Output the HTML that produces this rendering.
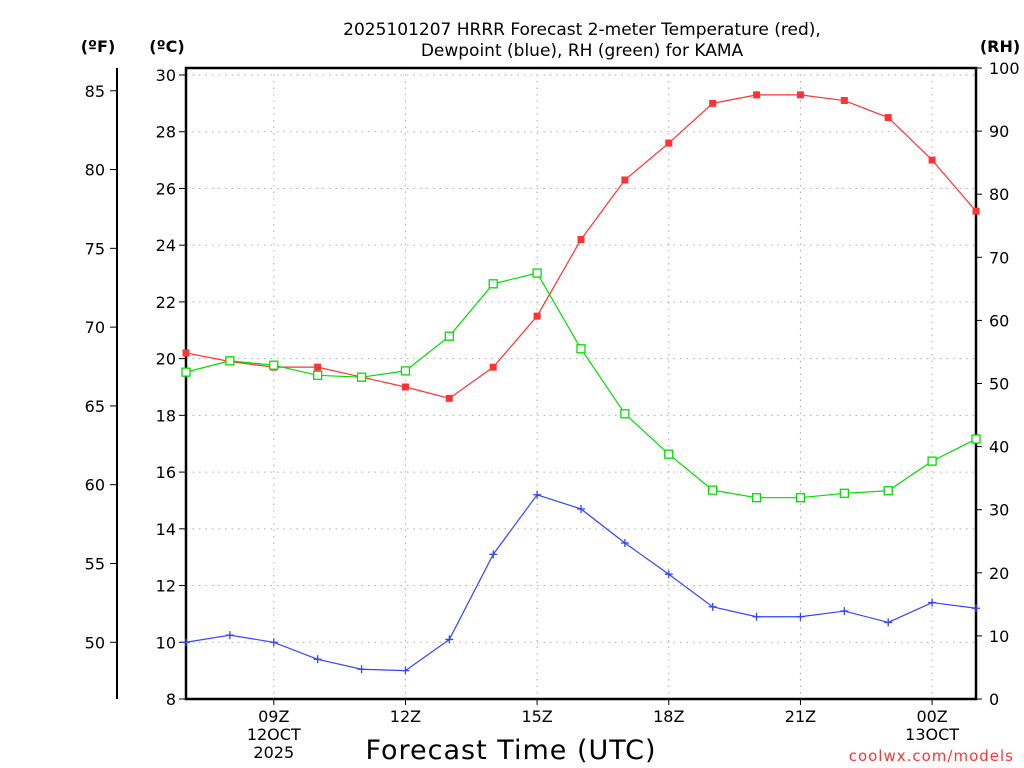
<!DOCTYPE html>
<html><head><meta charset="utf-8"><style>
body{margin:0;background:#fff;}
svg{display:block;font-family:"DejaVu Sans","Liberation Sans",sans-serif;}
</style></head><body>
<svg id="chart" width="1024" height="768" viewBox="0 0 1024 768">
<text x="582" y="35" text-anchor="middle" font-size="17" fill="#000">2025101207 HRRR Forecast 2-meter Temperature (red),</text>
<text x="582" y="56" text-anchor="middle" font-size="17" fill="#000">Dewpoint (blue), RH (green) for KAMA</text>
<text x="98" y="52" text-anchor="middle" font-size="16" font-weight="bold">(ºF)</text>
<text x="167" y="52" text-anchor="middle" font-size="16" font-weight="bold">(ºC)</text>
<text x="1000" y="52" text-anchor="middle" font-size="16" font-weight="bold">(RH)</text>
<text x="511" y="759" text-anchor="middle" font-size="27" letter-spacing="1">Forecast Time (UTC)</text>
<text x="1014" y="761" text-anchor="end" font-size="15" fill="#ff3333" letter-spacing="1">coolwx.com/models</text>
<g id="g"></g>
</svg>
<script>
const hours = ["07","08","09","10","11","12","13","14","15","16","17","18","19","20","21","22","23","00","01"];
const tempC = [20.2,19.9,19.7,19.7,19.35,19.0,18.6,19.7,21.5,24.2,26.3,27.6,29.0,29.3,29.3,29.1,28.5,27.0,25.2];
const dewC = [10.0,10.25,10.0,9.4,9.05,9.0,10.1,13.1,15.2,14.7,13.5,12.4,11.25,10.9,10.9,11.1,10.7,11.4,11.2];
const rh = [51.8,53.6,52.9,51.3,51.0,52.0,57.5,65.8,67.5,55.5,45.2,38.8,33.1,31.9,31.9,32.6,33.0,37.7,41.2];
const cTicks = [8,10,12,14,16,18,20,22,24,26,28,30];
const fTicks = [50,55,60,65,70,75,80,85];
const rhTicks = [0,10,20,30,40,50,60,70,80,90,100];
const xLabels = [{i:2,t:["09Z","12OCT","2025"]},{i:5,t:["12Z"]},{i:8,t:["15Z"]},{i:11,t:["18Z"]},{i:14,t:["21Z"]},{i:17,t:["00Z","13OCT"]}];

const L=186,R=976,T=68,B=699;
const xS=i=>L+i*(R-L)/(hours.length-1);
const yC=c=>75+(30-c)*(699-75)/22;
const yF=f=>yC((f-32)*5/9);
const yRH=v=>B-v*(B-T)/100;
const g=document.getElementById('g');
const NS='http://www.w3.org/2000/svg';
function mk(tag,attrs,name){const e=document.createElementNS(NS,tag);for(const k in attrs)e.setAttribute(k,attrs[k]);


g.appendChild(e);return e;}
// grid
cTicks.forEach(c=>{mk('line',{x1:L,x2:R,y1:yC(c),y2:yC(c),stroke:'#aaa','stroke-dasharray':'1.5,5'},'grid-line-h');
mk('line',{x1:179,x2:L,y1:yC(c),y2:yC(c),stroke:'#000'},'celsius-tick');
const t=mk('text',{x:176,y:yC(c)+6,'text-anchor':'end','font-size':'16'},'celsius-tick-label');t.textContent=c;});
xLabels.forEach(o=>{const x=xS(o.i);mk('line',{x1:x,x2:x,y1:T,y2:B,stroke:'#aaa','stroke-dasharray':'1.5,5'},'grid-line-v');
mk('line',{x1:x,x2:x,y1:B,y2:B+6,stroke:'#000'},'x-tick');
o.t.forEach((s,k)=>{const t=mk('text',{x:x,y:722+k*18,'text-anchor':'middle','font-size':'16'},'x-tick-label');t.textContent=s;});});
fTicks.forEach(f=>{mk('line',{x1:110,x2:117,y1:yF(f),y2:yF(f),stroke:'#000'},'fahrenheit-tick');
const t=mk('text',{x:105,y:yF(f)+6,'text-anchor':'end','font-size':'16'},'fahrenheit-tick-label');t.textContent=f;});
mk('line',{x1:117,x2:117,y1:T,y2:B,stroke:'#000','stroke-width':2},'fahrenheit-axis-line');
rhTicks.forEach(v=>{mk('line',{x1:R,x2:R+6,y1:yRH(v),y2:yRH(v),stroke:'#000'},'rh-tick');
const t=mk('text',{x:989,y:yRH(v)+6,'font-size':'16'},'rh-tick-label');t.textContent=v;});
mk('rect',{x:L,y:T,width:R-L,height:B-T,fill:'none',stroke:'#000','stroke-width':2.5},'plot-frame');
// series
function line(vals,yf,col,name){mk('polyline',{points:vals.map((v,i)=>xS(i)+','+yf(v)).join(' '),fill:'none',stroke:col,'stroke-width':1.2},name);}
line(tempC,yC,'#ff3333','temperature-line');
line(rh,yRH,'#00dd00','rh-line');
line(dewC,yC,'#3344ff','dewpoint-line');
tempC.forEach((v,i)=>mk('rect',{x:xS(i)-3.5,y:yC(v)-3.5,width:7,height:7,fill:'#ff3333'},'temperature-point'));
rh.forEach((v,i)=>mk('rect',{x:xS(i)-4,y:yRH(v)-4,width:8,height:8,fill:'#fff',stroke:'#00dd00','stroke-width':1.3},'rh-point'));
dewC.forEach((v,i)=>{const x=xS(i),y=yC(v);mk('path',{d:`M${x-4},${y}H${x+4}M${x},${y-4}V${y+4}`,stroke:'#3344ff','stroke-width':1.3},'dewpoint-point');});
</script>
</body></html>
